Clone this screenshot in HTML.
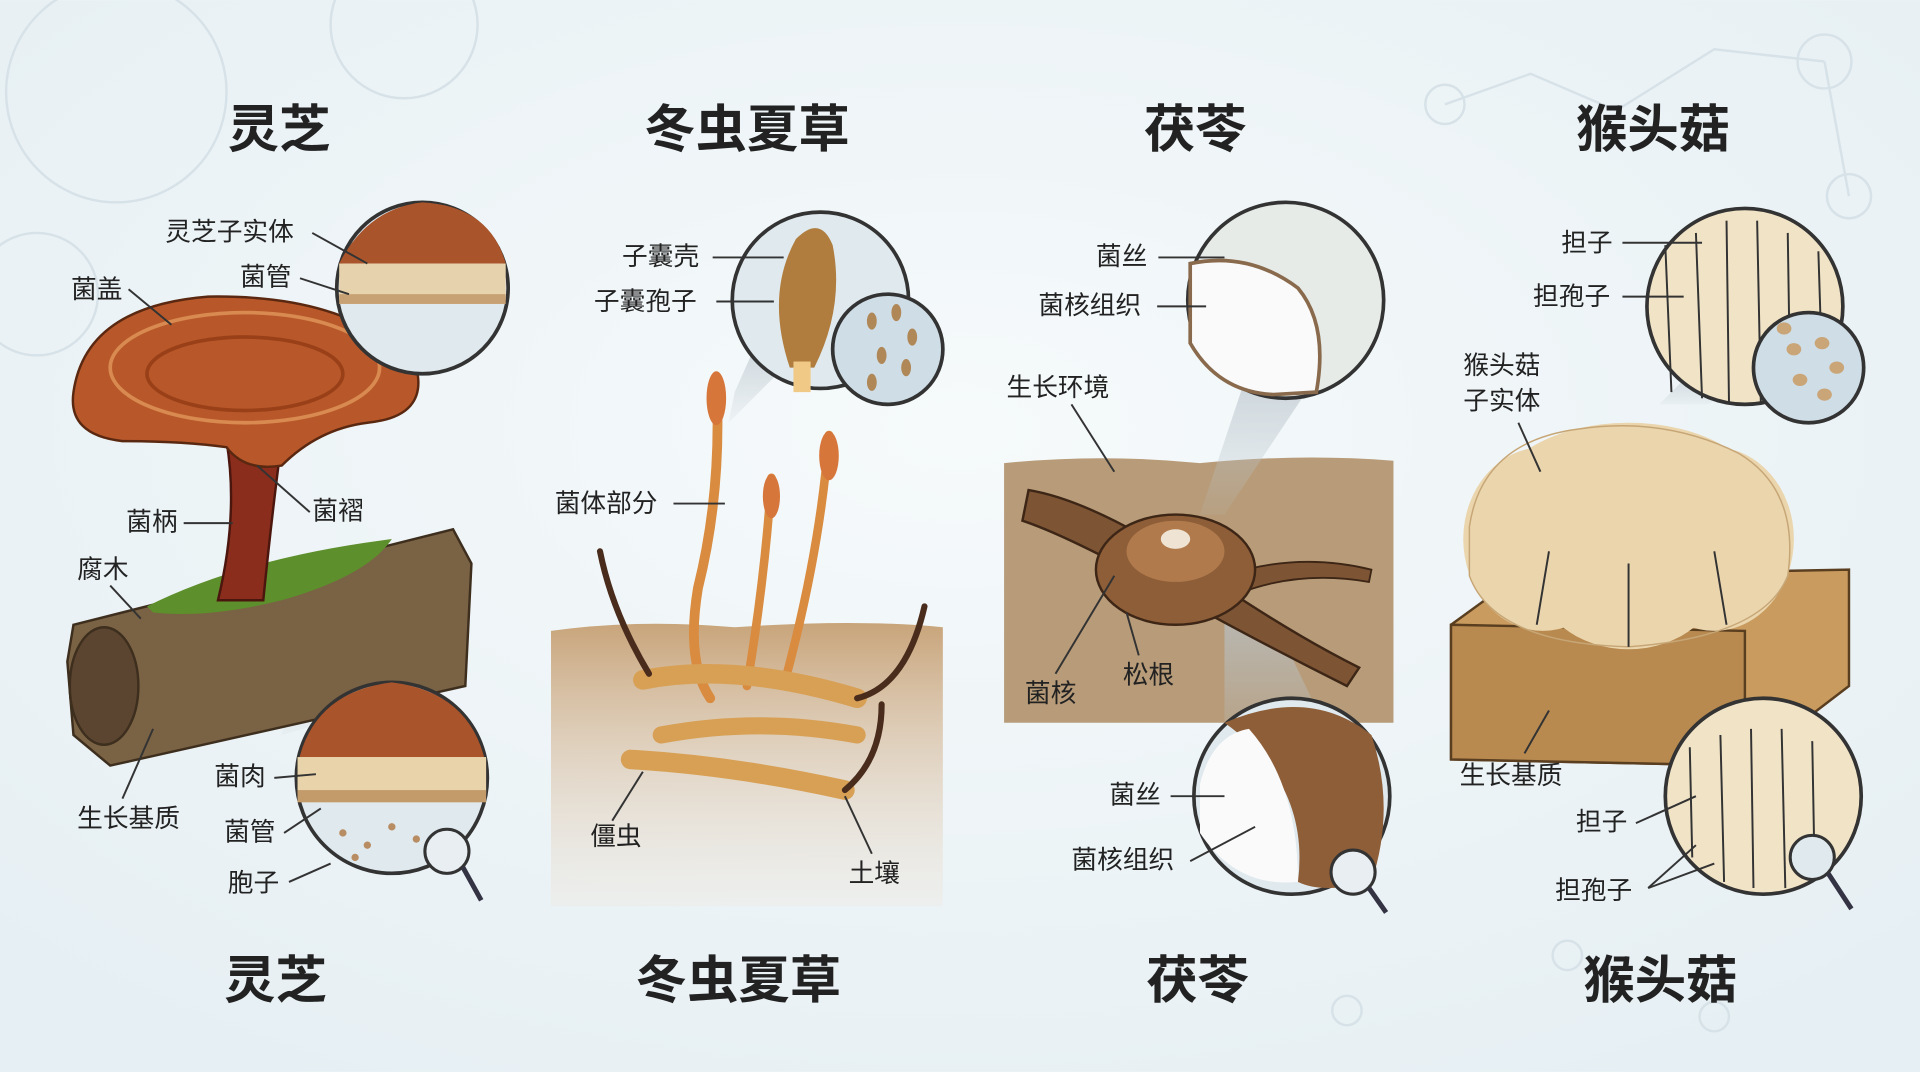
<!DOCTYPE html>
<html><head><meta charset="utf-8"><style>
html,body{margin:0;padding:0;width:1920px;height:1072px;overflow:hidden;background:#eef4f7}
svg{display:block}
text{font-family:"Liberation Sans","Noto Sans CJK SC",sans-serif;fill:#222}
.t{font-size:42px;font-weight:bold;text-anchor:middle}
.l{font-size:21px}
line,polyline{stroke:#333;stroke-width:1.6;fill:none}
.dec circle,.dec polyline{stroke:#d6e2e8;stroke-width:2;fill:none}
</style></head><body>
<svg width="1920" height="1072" viewBox="0 0 1568 875" xmlns="http://www.w3.org/2000/svg">
<defs>
<radialGradient id="bg" cx="50%" cy="40%" r="70%"><stop offset="0" stop-color="#f6fafb"/><stop offset="1" stop-color="#e6eff3"/></radialGradient>
<linearGradient id="soil" x1="0" y1="0" x2="0" y2="1"><stop offset="0" stop-color="#c8a47a"/><stop offset="1" stop-color="#efe6dc" stop-opacity="0.3"/></linearGradient>
<linearGradient id="cone" x1="0" y1="0" x2="0" y2="1"><stop offset="0" stop-color="#b9c4cc" stop-opacity="0.7"/><stop offset="1" stop-color="#b9c4cc" stop-opacity="0.1"/></linearGradient>
</defs>
<rect width="1568" height="875" fill="url(#bg)"/>
<g class="dec">
<circle cx="95" cy="75" r="90"/><circle cx="330" cy="20" r="60"/><circle cx="30" cy="240" r="50"/>
<circle cx="1490" cy="50" r="22"/><circle cx="1180" cy="85" r="16"/><circle cx="1510" cy="160" r="18"/>
<polyline points="1180,85 1250,60 1320,90 1400,40 1490,50" /><polyline points="1490,50 1510,160"/>
<circle cx="1100" cy="825" r="12"/><circle cx="1280" cy="780" r="12"/><circle cx="1400" cy="830" r="12"/>
</g>
<text class="t" x="228" y="120">灵芝</text>
<text class="t" x="610" y="120">冬虫夏草</text>
<text class="t" x="976" y="120">茯苓</text>
<text class="t" x="1350" y="120">猴头菇</text>
<text class="t" x="225" y="815">灵芝</text>
<text class="t" x="603" y="815">冬虫夏草</text>
<text class="t" x="978" y="815">茯苓</text>
<text class="t" x="1356" y="815">猴头菇</text>

<!-- Panel 1 -->
<polygon points="255,490 300,580 230,600" fill="url(#cone)"/>
<polygon points="60,510 370,432 385,460 380,560 90,625 60,600 55,540" fill="#7a6244" stroke="#3d2e1e" stroke-width="2"/>
<ellipse cx="85" cy="560" rx="28" ry="48" fill="#5b4530" stroke="#3d2e1e" stroke-width="2"/>
<path d="M120,495 Q200,455 320,440 Q300,470 230,490 Q170,505 125,500Z" fill="#5d8f2c"/>
<path d="M185,360 Q195,420 178,490 L215,490 Q222,420 230,360Z" fill="#8b2d1c" stroke="#4a160e" stroke-width="2"/>
<path d="M60,320 Q70,250 170,242 Q290,240 340,300 Q350,340 300,345 Q260,350 230,380 Q200,385 185,365 Q150,360 100,360 Q55,355 60,320Z" fill="#b8582a" stroke="#5a2810" stroke-width="2"/>
<ellipse cx="200" cy="300" rx="110" ry="45" fill="none" stroke="#d88a50" stroke-width="3"/>
<ellipse cx="200" cy="305" rx="80" ry="30" fill="none" stroke="#9a4018" stroke-width="3"/>
<circle cx="345" cy="235" r="70" fill="#dfe9ee" stroke="#333" stroke-width="3"/>
<path d="M277,215 Q300,170 345,165 Q400,168 413,215Z" fill="#a9542a"/>
<rect x="277" y="215" width="136" height="30" fill="#e6d3ad"/>
<rect x="277" y="240" width="136" height="8" fill="#c7a173"/>
<circle cx="320" cy="635" r="78" fill="#dfe9ee" stroke="#333" stroke-width="3"/>
<path d="M243,625 Q255,565 320,557 Q385,565 397,625Z" fill="#a9542a"/>
<rect x="243" y="618" width="154" height="30" fill="#e8d3aa"/>
<rect x="243" y="645" width="154" height="10" fill="#c39b6b"/>
<g fill="#b98d63"><circle cx="280" cy="680" r="3"/><circle cx="300" cy="690" r="3"/><circle cx="320" cy="675" r="3"/><circle cx="290" cy="700" r="3"/><circle cx="340" cy="685" r="3"/></g>
<circle cx="365" cy="695" r="18" fill="#e8eef2" stroke="#333" stroke-width="2.5"/>
<line x1="378" y1="708" x2="393" y2="735" style="stroke-width:4;stroke:#334"/>
<text class="l" x="135" y="196">灵芝子实体</text><line x1="255" y1="190" x2="300" y2="215"/>
<text class="l" x="196" y="233">菌管</text><line x1="245" y1="227" x2="285" y2="240"/>
<text class="l" x="58" y="243">菌盖</text><line x1="105" y1="236" x2="140" y2="265"/>
<text class="l" x="255" y="424">菌褶</text><line x1="253" y1="418" x2="210" y2="380"/>
<text class="l" x="103" y="433">菌柄</text><line x1="150" y1="427" x2="190" y2="427"/>
<text class="l" x="63" y="472">腐木</text><line x1="90" y1="478" x2="115" y2="505"/>
<text class="l" x="175" y="641">菌肉</text><line x1="224" y1="635" x2="258" y2="632"/>
<text class="l" x="183" y="686">菌管</text><line x1="232" y1="680" x2="262" y2="660"/>
<text class="l" x="186" y="728">胞子</text><line x1="236" y1="720" x2="270" y2="705"/>
<text class="l" x="63" y="675">生长基质</text><line x1="100" y1="652" x2="125" y2="595"/>

<!-- Panel 2 -->
<path d="M450,515 Q520,505 600,512 Q700,505 770,512 L770,740 L450,740Z" fill="url(#soil)"/>
<polygon points="600,320 595,345 640,300 620,275" fill="url(#cone)"/>
<g fill="none" stroke-linecap="round">
<path d="M585,310 Q590,400 570,480 Q560,540 580,570" stroke="#d98b3f" stroke-width="8"/>
<path d="M630,390 Q625,470 610,560" stroke="#d98b3f" stroke-width="7"/>
<path d="M677,355 Q670,450 640,560" stroke="#d98b3f" stroke-width="7"/>
<path d="M525,555 Q600,540 700,570" stroke="#d8a055" stroke-width="16"/>
<path d="M515,620 Q600,625 690,645" stroke="#d8a055" stroke-width="16"/>
<path d="M540,600 Q620,585 700,600" stroke="#d8a055" stroke-width="14"/>
<path d="M490,450 Q500,500 530,550" stroke="#4a2c1c" stroke-width="5"/>
<path d="M690,645 Q720,620 720,575" stroke="#4a2c1c" stroke-width="5"/>
<path d="M700,570 Q740,560 755,495" stroke="#4a2c1c" stroke-width="5"/>
</g>
<ellipse cx="585" cy="325" rx="8" ry="22" fill="#d7763a"/>
<ellipse cx="630" cy="405" rx="7" ry="18" fill="#d7763a"/>
<ellipse cx="677" cy="372" rx="8" ry="20" fill="#d7763a"/>
<circle cx="670" cy="245" r="72" fill="#dfe9ee" stroke="#333" stroke-width="3"/>
<path d="M645,300 Q625,240 650,195 Q670,175 680,200 Q690,250 665,300Z" fill="#b07d3e"/>
<rect x="648" y="295" width="14" height="25" fill="#f0c987"/>
<circle cx="725" cy="285" r="45" fill="#cfdde6" stroke="#333" stroke-width="3"/>
<g fill="#b08858"><ellipse cx="712" cy="262" rx="4" ry="7"/><ellipse cx="732" cy="255" rx="4" ry="7"/><ellipse cx="745" cy="275" rx="4" ry="7"/><ellipse cx="720" cy="290" rx="4" ry="7"/><ellipse cx="740" cy="300" rx="4" ry="7"/><ellipse cx="712" cy="312" rx="4" ry="7"/></g>
<text class="l" x="508" y="216">子囊壳</text><line x1="582" y1="210" x2="640" y2="210"/>
<text class="l" x="485" y="253">子囊孢子</text><line x1="585" y1="246" x2="632" y2="246"/>
<text class="l" x="453" y="418">菌体部分</text><line x1="550" y1="411" x2="592" y2="411"/>
<text class="l" x="482" y="690">僵虫</text><line x1="500" y1="670" x2="525" y2="630"/>
<text class="l" x="693" y="720">土壤</text><line x1="712" y1="697" x2="690" y2="650"/>

<!-- Panel 3 -->
<path d="M820,378 Q900,370 980,378 Q1060,370 1138,376 L1138,590 L820,590Z" fill="#b89c79"/>
<polygon points="980,420 1000,420 1080,300 1020,300" fill="url(#cone)"/>
<polygon points="1000,500 1040,505 1090,610 1000,600" fill="url(#cone)"/>
<path d="M840,400 Q900,410 1000,480 Q1060,520 1110,545 L1100,560 Q1040,530 985,500 Q880,440 835,425Z" fill="#7d5535" stroke="#3d2616" stroke-width="2"/>
<path d="M1000,470 Q1060,450 1120,465 L1118,475 Q1060,465 1010,485Z" fill="#7d5535" stroke="#3d2616" stroke-width="1.5"/>
<ellipse cx="960" cy="465" rx="65" ry="45" fill="#8e5e38" stroke="#3d2616" stroke-width="2"/>
<ellipse cx="960" cy="450" rx="40" ry="25" fill="#b07a4c"/>
<ellipse cx="960" cy="440" rx="12" ry="8" fill="#efe4d4"/>
<circle cx="1050" cy="245" r="80" fill="#e6ebe8" stroke="#333" stroke-width="3"/>
<path d="M972,215 Q1020,205 1060,235 Q1085,265 1075,320 L1040,322 Q995,320 972,280Z" fill="#fafafa" stroke="#8a6a4c" stroke-width="3"/>
<circle cx="1055" cy="650" r="80" fill="#dfe9ee" stroke="#333" stroke-width="3"/>
<path d="M1000,590 Q1070,560 1120,600 Q1140,660 1120,720 Q1080,730 1060,720 Q1070,640 1000,590Z" fill="#8e5e38"/>
<path d="M980,640 Q990,600 1020,595 Q1060,640 1060,720 Q1010,725 980,680Z" fill="#fafafa"/>
<circle cx="1105" cy="712" r="18" fill="#e8eef2" stroke="#333" stroke-width="2.5"/>
<line x1="1118" y1="725" x2="1132" y2="745" style="stroke-width:4;stroke:#334"/>
<text class="l" x="895" y="216">菌丝</text><line x1="946" y1="210" x2="1000" y2="210"/>
<text class="l" x="848" y="256">菌核组织</text><line x1="945" y1="250" x2="985" y2="250"/>
<text class="l" x="822" y="323">生长环境</text><line x1="875" y1="330" x2="910" y2="385"/>
<text class="l" x="837" y="573">菌核</text><line x1="862" y1="550" x2="910" y2="470"/>
<text class="l" x="917" y="558">松根</text><line x1="930" y1="535" x2="920" y2="500"/>
<text class="l" x="906" y="656">菌丝</text><line x1="956" y1="650" x2="1000" y2="650"/>
<text class="l" x="875" y="709">菌核组织</text><line x1="972" y1="703" x2="1025" y2="675"/>

<!-- Panel 4 -->
<polygon points="1355,330 1395,330 1440,300 1385,300" fill="url(#cone)"/>
<polygon points="1375,540 1400,540 1420,600 1370,600" fill="url(#cone)"/>
<polygon points="1185,510 1240,470 1510,465 1510,560 1425,625 1185,620" fill="#c99b5e" stroke="#5a3e20" stroke-width="2"/>
<polygon points="1185,510 1425,515 1425,625 1185,620" fill="#b88a50" stroke="#5a3e20" stroke-width="2"/>
<g fill="#ead5ad">
<ellipse cx="1260" cy="440" rx="65" ry="75"/><ellipse cx="1400" cy="440" rx="65" ry="75"/>
<ellipse cx="1330" cy="410" rx="110" ry="65"/><ellipse cx="1330" cy="470" rx="75" ry="60"/>
</g>
<g stroke="#c7a676" stroke-width="1.2" fill="none">
<path d="M1200,430 Q1210,360 1290,350 Q1360,340 1420,370 Q1470,400 1460,470 Q1440,520 1330,528 Q1220,525 1200,470Z"/>
<line x1="1330" y1="460" x2="1330" y2="528"/><line x1="1265" y1="450" x2="1255" y2="510"/><line x1="1400" y1="450" x2="1410" y2="510"/>
</g>
<circle cx="1425" cy="250" r="80" fill="#f1e3c6" stroke="#333" stroke-width="3"/>
<g stroke="#b59263" stroke-width="1.2"><line x1="1360" y1="200" x2="1365" y2="320"/><line x1="1385" y1="190" x2="1390" y2="325"/><line x1="1410" y1="180" x2="1412" y2="328"/><line x1="1435" y1="180" x2="1438" y2="328"/><line x1="1460" y1="190" x2="1462" y2="320"/><line x1="1485" y1="205" x2="1488" y2="300"/></g>
<circle cx="1477" cy="300" r="45" fill="#cfdde6" stroke="#333" stroke-width="3"/>
<g fill="#c9a577"><ellipse cx="1465" cy="285" rx="6" ry="5"/><ellipse cx="1488" cy="280" rx="6" ry="5"/><ellipse cx="1500" cy="300" rx="6" ry="5"/><ellipse cx="1470" cy="310" rx="6" ry="5"/><ellipse cx="1490" cy="322" rx="6" ry="5"/><ellipse cx="1457" cy="268" rx="6" ry="5"/></g>
<circle cx="1440" cy="650" r="80" fill="#f1e3c6" stroke="#333" stroke-width="3"/>
<g stroke="#b59263" stroke-width="1.2"><line x1="1380" y1="610" x2="1382" y2="700"/><line x1="1405" y1="600" x2="1408" y2="720"/><line x1="1430" y1="595" x2="1432" y2="725"/><line x1="1455" y1="595" x2="1458" y2="725"/><line x1="1480" y1="605" x2="1482" y2="715"/></g>
<circle cx="1480" cy="700" r="18" fill="#dfe9ee" stroke="#333" stroke-width="2.5"/>
<line x1="1493" y1="713" x2="1512" y2="742" style="stroke-width:4;stroke:#334"/>
<text class="l" x="1275" y="205">担子</text><line x1="1325" y1="198" x2="1390" y2="198"/>
<text class="l" x="1252" y="249">担孢子</text><line x1="1325" y1="242" x2="1375" y2="242"/>
<text class="l" x="1195" y="305">猴头菇</text>
<text class="l" x="1195" y="334">子实体</text><line x1="1240" y1="345" x2="1258" y2="385"/>
<text class="l" x="1192" y="640">生长基质</text><line x1="1245" y1="615" x2="1265" y2="580"/>
<text class="l" x="1287" y="678">担子</text><line x1="1336" y1="672" x2="1385" y2="650"/>
<text class="l" x="1270" y="734">担孢子</text><line x1="1346" y1="725" x2="1385" y2="690"/><line x1="1346" y1="725" x2="1400" y2="705"/>
</svg>
</body></html>
